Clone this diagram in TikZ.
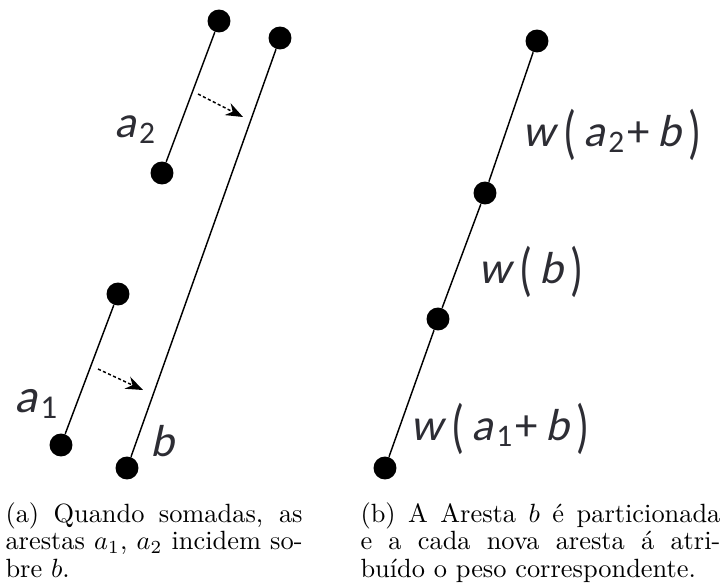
\documentclass[tikz,border=0pt]{standalone}
\usepackage{fontspec}
\usetikzlibrary{arrows.meta}
\newfontfamily\lblfont{Carlito}[AutoFakeSlant=0.22]
\definecolor{xInk}{RGB}{45,45,52}
\newcommand{\Sb}[2]{{\itshape #1}\kern1.2pt\textsubscript{#2}\kern0.8pt}
\newcommand{\Brk}[1]{\raisebox{-0.14em}{\scalebox{0.95}[1.32]{#1}}}
\newcommand{\Prn}[1]{\Brk{(}\kern2.6pt#1\kern2.8pt\Brk{)}}
\tikzset{
  vtx/.style={circle, fill=black, inner sep=0pt, minimum size=8.7pt},
  edge/.style={line width=0.55pt},
  shove/.style={-{Stealth[length=6.5pt, width=5pt]}, line width=0.55pt, dash pattern=on 1.2pt off 0.9pt},
  lbl/.style={font=\lblfont\fontsize{17}{20}\selectfont, text=xInk, inner sep=0pt, anchor=base west},
  capt/.style={font=\fontsize{10}{10.6}\selectfont, align=justify, inner sep=0pt, anchor=base west},
}

\begin{document}
\begin{tikzpicture}[x=0.379pt, y=-0.379pt]
  \useasboundingbox (0,0) rectangle (726,587);
  % (a)
  \node[vtx] (a2t) at (219,21)  {};
  \node[vtx] (a2b) at (162,173) {};
  \node[vtx] (bt)  at (280,38)  {};
  \node[vtx] (bb)  at (127,468) {};
  \node[vtx] (a1t) at (118,294) {};
  \node[vtx] (a1b) at (61,445)  {};
  \draw[edge] (a2t) -- (a2b);
  \draw[edge] (bt) -- (bb);
  \draw[edge] (a1t) -- (a1b);
  \coordinate (s2) at (198,94);
  \coordinate (e2) at (243,117);
  \coordinate (s1) at (98,369);
  \coordinate (e1) at (143,390);
  \draw[shove] (s2) -- (e2);
  \draw[shove] (s1) -- (e1);
  \node[lbl] (la2) at (114,137) {\Sb{a}{2}};
  \node[lbl, font=\lblfont\fontsize{18}{20}\selectfont] (la1) at (14,412) {\Sb{a}{1}};
  \node[lbl] (lb) at (150,456) {\itshape b};
  \node[capt, text width=112.6pt] (ca) at (5,522)
    {(a) Quando somadas, as\linebreak arestas $a_1$, $a_2$ incidem so-\linebreak bre $b$.};
  % (b)
  \node[vtx] (p0) at (537,41)  {};
  \node[vtx] (p1) at (485,193) {};
  \node[vtx] (p2) at (438,319) {};
  \node[vtx] (p3) at (385,468) {};
  \draw[edge] (p0) -- (p1) -- (p2) -- (p3);
  \node[lbl] (w2) at (522,146) {{\itshape w}\kern3.5pt\Prn{\Sb{a}{2}+\kern3pt{\itshape b}}};
  \node[lbl] (wb) at (478,283) {{\itshape w}\kern3.5pt\Prn{{\itshape b}}};
  \node[lbl] (w1) at (410,440) {{\itshape w}\kern3.5pt\Prn{\Sb{a}{1}+\kern3pt{\itshape b}}};
  \node[capt, text width=136.4pt] (cb) at (360,522)
    {(b) A Aresta $b$ é particionada\linebreak e a cada nova aresta á atri-\linebreak buído o peso correspondente.};
\end{tikzpicture}
\end{document}
